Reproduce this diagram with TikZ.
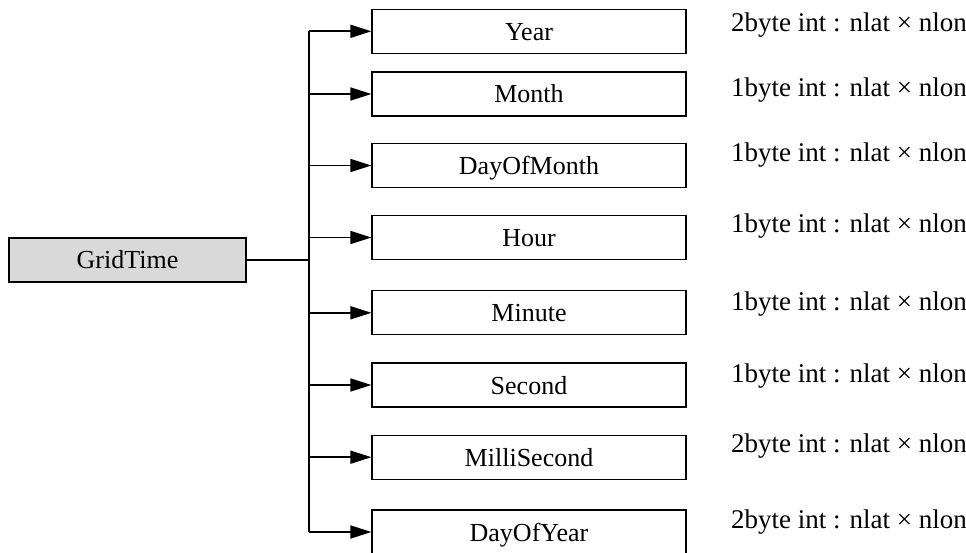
\documentclass[tikz,border=0pt]{standalone}
\usepackage{fontspec}
\setmainfont{Liberation Serif}
\usetikzlibrary{arrows.meta,positioning}

\begin{document}
\begin{tikzpicture}[
    x=1pt, y=-1pt,
    field/.style={draw, line width=1.2pt, minimum width=314pt, minimum height=44pt, inner sep=0pt, text height=18pt, text depth=0pt, font=\fontsize{26pt}{30pt}\selectfont},
    root/.style={field, minimum width=237pt, fill=black!15},
    arr/.style={-{Triangle[length=21pt, width=13pt]}, line width=1.6pt},
    conn/.style={line width=1.6pt},
    lbl/.style={anchor=base west, inner sep=0pt, font=\fontsize{27pt}{31pt}\selectfont}
]
\useasboundingbox (0,0) rectangle (966,553);

\node[root] (grid) at (127.5,260) {GridTime};
\coordinate (trunk) at (309,260);

\node[field] (year) at (529,31.3) {Year};
\node[field] (month) at (529,94) {Month};
\node[field] (dom) at (529,165.5) {DayOfMonth};
\node[field] (hour) at (529,237.5) {Hour};
\node[field] (minute) at (529,312.8) {Minute};
\node[field] (second) at (529,385) {Second};
\node[field] (milli) at (529,457.2) {MilliSecond};
\node[field] (doy) at (529,532) {DayOfYear};

\node[lbl] (lyear) at (731,32) {2byte int : nlat × nlon};
\node[lbl] (lmonth) at (731,97) {1byte int : nlat × nlon};
\node[lbl] (ldom) at (731,162) {1byte int : nlat × nlon};
\node[lbl] (lhour) at (731,233) {1byte int : nlat × nlon};
\node[lbl] (lminute) at (731,310) {1byte int : nlat × nlon};
\node[lbl] (lsecond) at (731,382) {1byte int : nlat × nlon};
\node[lbl] (lmilli) at (731,452) {2byte int : nlat × nlon};
\node[lbl] (ldoy) at (731,528) {2byte int : nlat × nlon};

\draw[conn] (grid.east) -- (trunk);
\draw[conn] (trunk |- year.west) -- (trunk |- doy.west);
\draw[arr] (trunk |- year.west) -- (year.west);
\draw[arr] (trunk |- month.west) -- (month.west);
\draw[arr] (trunk |- dom.west) -- (dom.west);
\draw[arr] (trunk |- hour.west) -- (hour.west);
\draw[arr] (trunk |- minute.west) -- (minute.west);
\draw[arr] (trunk |- second.west) -- (second.west);
\draw[arr] (trunk |- milli.west) -- (milli.west);
\draw[arr] (trunk |- doy.west) -- (doy.west);
\end{tikzpicture}
\end{document}
